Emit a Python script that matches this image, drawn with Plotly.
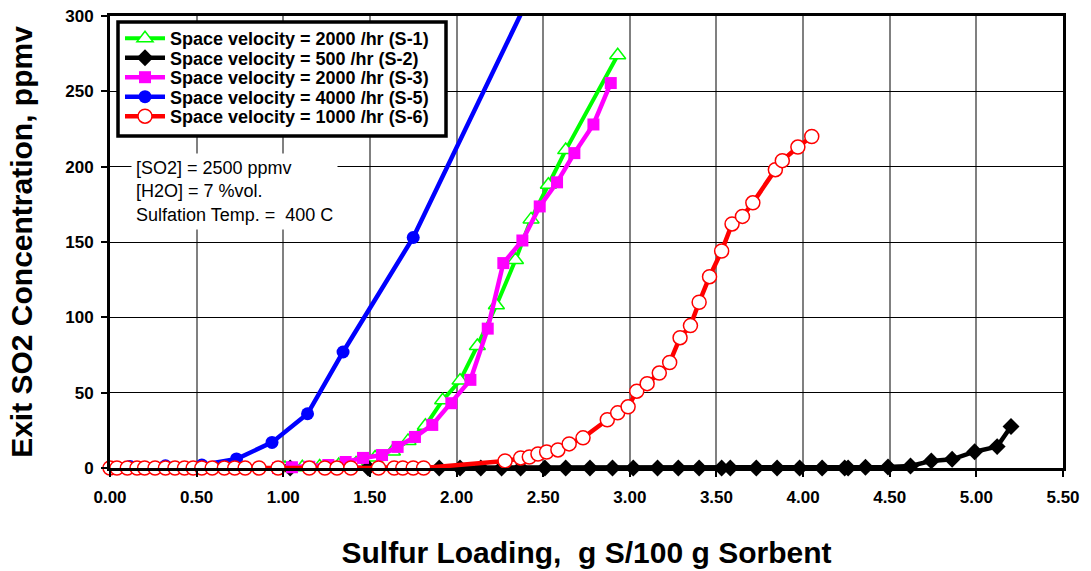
import plotly.graph_objects as go

# ---------------- data ----------------
s1_x = [1.01, 1.11, 1.21, 1.32, 1.42, 1.53, 1.63, 1.72, 1.82, 1.92, 2.02, 2.12, 2.23, 2.34, 2.43, 2.53, 2.63, 2.93]
s1_y = [0, 0.5, 1, 2, 3, 7, 11, 18, 28, 45, 58, 81, 108, 138, 165, 188, 211, 274]

s2_x = [1.04, 1.49, 1.90, 2.02, 2.14, 2.26, 2.37, 2.51, 2.63, 2.77, 2.90, 3.02, 3.16, 3.28, 3.40, 3.53,
        3.58, 3.73, 3.85, 3.98, 4.11, 4.24, 4.26, 4.36, 4.49, 4.62, 4.74, 4.86, 4.99, 5.12, 5.20]
s2_y = [0, 0, 0, 0, 0, 0, 0, 0, 0, 0, 0, 0, 0, 0, 0, 0,
        0, 0, 0, 0, 0, 0, 0, 0.5, 0.7, 1.3, 4.7, 5.8, 10.8, 14.2, 27.5]

s3_x = [0.97, 1.05, 1.15, 1.26, 1.36, 1.46, 1.57, 1.66, 1.76, 1.86, 1.97, 2.08, 2.18, 2.27, 2.38, 2.48,
        2.58, 2.68, 2.79, 2.89]
s3_y = [0, 0.5, 0.8, 2, 4, 6.7, 8.6, 14, 20.6, 28.6, 43, 58.5, 92.5, 136, 151, 173.6,
        189.6, 209, 228, 255.5]

s5_x = [0.115, 0.32, 0.53, 0.73, 0.935, 1.14, 1.345, 1.75, 2.5]
s5_y = [1, 1.5, 2, 6, 17, 36, 77, 153, 332]

s6_x = [0, 0.04, 0.10, 0.156, 0.20, 0.26, 0.32, 0.375, 0.43, 0.48, 0.53, 0.59, 0.66, 0.72, 0.78, 0.86,
        0.97, 1.15, 1.24, 1.31, 1.39, 1.55, 1.64, 1.69, 1.75, 1.81,
        2.28, 2.37, 2.42, 2.47, 2.52, 2.585, 2.65, 2.73, 2.87, 2.93, 2.99, 3.04, 3.10, 3.17, 3.23,
        3.29, 3.35, 3.40, 3.46, 3.53, 3.59, 3.65, 3.71, 3.84, 3.88, 3.97, 4.05]
s6_y = [0] * 26 + [4.7, 6.7, 7.3, 9.3, 10.6, 12, 16, 20, 32, 36.6, 40.6, 51, 56, 63, 70,
                   86.5, 94.5, 110, 127, 144, 162, 167, 176, 198, 204, 213, 220]

names = ["Space velocity = 2000 /hr (S-1)",
         "Space velocity = 500 /hr (S-2)",
         "Space velocity = 2000 /hr (S-3)",
         "Space velocity = 4000 /hr (S-5)",
         "Space velocity = 1000 /hr (S-6)"]

x_ticks = [0, 0.5, 1.0, 1.5, 2.0, 2.5, 3.0, 3.5, 4.0, 4.5, 5.0, 5.5]
y_ticks = [0, 50, 100, 150, 200, 250, 300]

note_lines = ["[SO2] = 2500 ppmv", "[H2O] = 7 %vol.", "Sulfation Temp. =&nbsp; 400 C"]

FONT = "Liberation Sans, Arial, sans-serif"

styles = [
    dict(line=dict(color="#00FF00", width=4),
         marker=dict(symbol="triangle-up", size=14, color="white", line=dict(color="#00FF00", width=1.5))),
    dict(line=dict(color="black", width=4.5),
         marker=dict(symbol="diamond", size=13, color="black", line=dict(width=0))),
    dict(line=dict(color="#FF00FF", width=4.5),
         marker=dict(symbol="square", size=12, color="#FF00FF", line=dict(width=0))),
    dict(line=dict(color="#0000FF", width=4.5),
         marker=dict(symbol="circle", size=13, color="#0000FF", line=dict(width=0))),
    dict(line=dict(color="#FF0000", width=4.5),
         marker=dict(symbol="circle", size=14, color="white", line=dict(color="#FF0000", width=1.5))),
]

data = [(s1_x, s1_y), (s2_x, s2_y), (s3_x, s3_y), (s5_x, s5_y), (s6_x, s6_y)]
legend_keys = ["legend", "legend2", "legend3", "legend4", "legend5"]

fig = go.Figure()
for (xs, ys), name, st, lk in zip(data, names, styles, legend_keys):
    fig.add_trace(go.Scatter(x=xs, y=ys, mode="lines+markers", name=name,
                             line=st["line"], marker=st["marker"],
                             cliponaxis=False, legend=lk))

# plot-area pixel geometry
L, R, T, B = 110, 28, 16, 103
W, H = 1091, 571
ph = H - T - B

def py(px):  # pixel y -> paper y
    return (H - B - px) / ph

def pxx(px):  # pixel x -> paper x
    return (px - L) / (W - L - R)

row_centers = [38.5, 58, 77.5, 97, 116.5]
legend_layout = {}
for lk, c in zip(legend_keys, row_centers):
    legend_layout[lk] = dict(x=pxx(120), xanchor="left", y=py(c), yanchor="middle",
                             bgcolor="rgba(0,0,0,0)", borderwidth=0, itemwidth=40,
                             font=dict(family=FONT, size=18, color="black", weight="bold"))

axis_common = dict(showline=True, linecolor="black", linewidth=3, mirror=True,
                   zeroline=False, ticks="outside", ticklen=6, tickcolor="black", tickwidth=1.5,
                   tickfont=dict(family=FONT, size=17, color="black", weight="bold"))

fig.update_layout(
    width=W, height=H,
    margin=dict(l=L, r=R, t=T, b=B, autoexpand=False),
    paper_bgcolor="white", plot_bgcolor="white",
    showlegend=True,
    **legend_layout,
    xaxis=dict(range=[0, 5.5], tickvals=x_ticks, tickformat=".2f",
               showgrid=True, gridcolor="#808080", gridwidth=2,
               ticklabelstandoff=6,
               title=dict(text="Sulfur Loading,&nbsp; g S/100 g Sorbent", standoff=36,
                          font=dict(family=FONT, size=30, color="black", weight="bold")),
               **axis_common),
    yaxis=dict(range=[0, 300], tickvals=y_ticks,
               showgrid=True, gridcolor="black", gridwidth=1.2,
               ticklabelstandoff=4,
               title=dict(text="Exit SO2 Concentration, ppmv", standoff=24,
                          font=dict(family=FONT, size=30, color="black", weight="bold")),
               **axis_common),
    shapes=[dict(type="rect", xref="paper", yref="paper",
                 x0=pxx(118), x1=pxx(446), y0=py(136), y1=py(22),
                 line=dict(color="black", width=3.5), fillcolor="white", layer="above")],
    annotations=[dict(text="<br>".join(note_lines), xref="paper", yref="paper",
                      x=pxx(131), y=py(153), xanchor="left", yanchor="top", align="left",
                      showarrow=False, bgcolor="white", borderpad=4,
                      font=dict(family=FONT, size=18, color="black"))],
)

fig.write_html("out.html", config={"displayModeBar": False},
               post_script="document.body.style.margin='0';document.body.style.overflow='hidden';")
